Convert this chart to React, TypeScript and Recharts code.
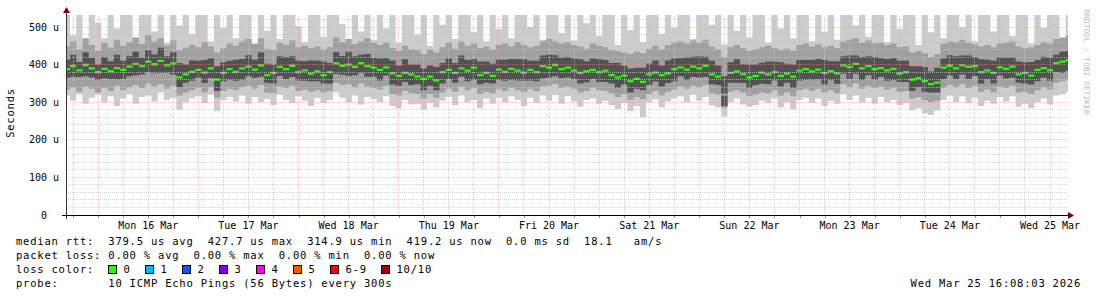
import { ComposedChart, Area, XAxis, YAxis, ReferenceLine } from 'recharts'

if (typeof document !== 'undefined') document.body.style.margin = '0'

// one sample every 1.5 h, starting Sun 15 Mar 16:30 (index 0) -> Wed 25 Mar 16:30 (index 160)
const pingMax = [
  540, 478, 540, 452, 540, 512, 470, 540, 496, 540,
  540, 466, 540, 540, 488, 540, 458, 540, 504, 540,
  482, 540, 540, 462, 540, 498, 540, 470, 540, 540,
  456, 540, 490, 540, 468, 540, 540, 502, 460, 540,
  540, 474, 540, 540, 508, 452, 540, 488, 540, 466,
  540, 496, 540, 458, 540, 540, 480, 540, 450, 540,
  506, 540, 468, 540, 540, 486, 540, 462, 540, 494,
  540, 470, 540, 540, 500, 540, 456, 540, 540, 484,
  540, 464, 540, 510, 540, 476, 540, 540, 452, 540,
  492, 540, 460, 540, 540, 482, 540, 498, 540, 540,
  468, 540, 540, 506, 540, 454, 540, 490, 540, 472,
  540, 540, 458, 540, 496, 540, 470, 540, 540, 462,
  540, 488, 540, 466, 540, 540, 504, 540, 474, 540,
  540, 460, 540, 494, 540, 540, 452, 540, 486, 540,
  470, 540, 540, 500, 540, 462, 540, 540, 488, 540,
  540, 476, 540, 540, 456, 540, 498, 540, 540, 470,
  540,
]

const pingHi2 = [
  448, 462, 440, 470, 452, 436, 458, 445, 466, 450,
  460, 472, 455, 478, 462, 470, 450, 465, 438, 445,
  452, 446, 460, 448, 432, 444, 456, 450, 462, 468,
  455, 470, 442, 438, 458, 452, 464, 446, 450, 444,
  448, 440, 446, 472, 460, 468, 455, 462, 470, 458,
  452, 458, 444, 436, 450, 440, 438, 428, 440, 432,
  446, 458, 442, 462, 450, 456, 444, 448, 440, 452,
  456, 448, 460, 452, 446, 450, 464, 468, 462, 456,
  460, 452, 448, 442, 456, 450, 446, 438, 436, 432,
  428, 434, 430, 442, 450, 440, 452, 458, 462, 456,
  464, 458, 466, 448, 440, 420, 446, 452, 444, 436,
  440, 446, 450, 444, 438, 442, 436, 452, 456, 448,
  454, 446, 450, 444, 462, 466, 470, 458, 464, 456,
  458, 452, 456, 446, 448, 432, 436, 430, 420, 428,
  456, 462, 460, 466, 458, 454, 448, 452, 446, 456,
  458, 462, 448, 444, 446, 452, 460, 456, 468, 472,
  476,
]

const pingHi1 = [
  413, 426, 407, 433, 418, 400, 420, 409, 426, 410,
  423, 434, 418, 438, 427, 445, 422, 433, 404, 400,
  411, 410, 412, 416, 396, 406, 410, 413, 415, 425,
  413, 432, 402, 400, 422, 420, 422, 410, 409, 411,
  410, 408, 404, 433, 423, 434, 422, 426, 428, 418,
  416, 417, 411, 398, 414, 400, 400, 390, 398, 394,
  404, 416, 404, 424, 412, 414, 408, 408, 402, 413,
  413, 415, 414, 414, 410, 410, 424, 426, 425, 418,
  420, 416, 414, 409, 416, 414, 412, 404, 404, 397,
  390, 392, 392, 402, 411, 398, 411, 416, 417, 419,
  421, 422, 421, 410, 398, 370, 406, 414, 401, 400,
  400, 405, 408, 408, 406, 402, 400, 412, 412, 412,
  415, 412, 409, 409, 422, 424, 424, 420, 422, 420,
  417, 415, 417, 410, 410, 396, 396, 394, 382, 392,
  416, 425, 422, 424, 424, 420, 414, 413, 410, 419,
  419, 419, 408, 406, 407, 412, 421, 419, 426, 434,
  436,
]

const medianRtt = [
  388, 396, 385, 399, 390, 380, 389, 383, 391, 386,
  395, 402, 396, 408, 401, 410, 398, 403, 366, 374,
  381, 386, 379, 390, 360, 378, 388, 381, 390, 395,
  387, 398, 372, 378, 394, 388, 397, 380, 385, 376,
  382, 372, 380, 403, 397, 400, 394, 404, 396, 392,
  386, 393, 377, 370, 378, 374, 368, 362, 368, 358,
  380, 386, 378, 390, 384, 392, 372, 378, 370, 387,
  381, 389, 384, 379, 386, 380, 396, 392, 399, 388,
  392, 384, 378, 383, 386, 380, 384, 372, 366, 371,
  356, 362, 354, 374, 379, 372, 377, 388, 393, 387,
  395, 390, 397, 374, 368, 320, 378, 382, 375, 366,
  370, 379, 374, 380, 370, 376, 368, 384, 388, 382,
  387, 378, 383, 377, 398, 394, 402, 390, 396, 388,
  391, 385, 389, 376, 380, 360, 364, 356, 348, 352,
  392, 397, 390, 398, 394, 396, 380, 385, 378, 393,
  389, 395, 374, 378, 371, 386, 391, 385, 404, 408,
  412,
]

const pingLo1 = [
  366, 368, 367, 369, 366, 360, 363, 362, 361, 362,
  369, 372, 374, 380, 377, 378, 378, 373, 340, 352,
  357, 366, 351, 364, 330, 356, 360, 357, 360, 369,
  365, 368, 352, 350, 370, 362, 367, 358, 357, 356,
  356, 350, 350, 375, 373, 370, 372, 378, 368, 368,
  358, 371, 347, 344, 354, 346, 348, 332, 344, 332,
  350, 362, 352, 368, 356, 360, 348, 352, 350, 359,
  357, 359, 358, 357, 358, 356, 364, 366, 369, 364,
  366, 362, 350, 353, 362, 354, 354, 350, 338, 347,
  326, 336, 332, 346, 355, 342, 351, 356, 369, 359,
  367, 366, 367, 348, 346, 290, 352, 352, 351, 338,
  346, 349, 348, 358, 342, 352, 338, 358, 360, 360,
  361, 348, 359, 349, 376, 362, 376, 360, 372, 360,
  367, 357, 359, 354, 354, 330, 340, 328, 326, 326,
  362, 371, 362, 374, 362, 370, 350, 361, 350, 371,
  363, 365, 352, 350, 347, 356, 365, 357, 380, 378,
  384,
]

const pingLo2 = [
  334, 340, 328, 342, 336, 326, 338, 330, 344, 332,
  340, 346, 338, 350, 342, 348, 336, 344, 318, 326,
  332, 338, 326, 340, 312, 330, 336, 332, 340, 344,
  336, 346, 326, 324, 342, 338, 344, 330, 334, 328,
  332, 326, 330, 352, 346, 348, 340, 350, 342, 338,
  334, 344, 322, 318, 330, 324, 322, 310, 322, 312,
  326, 336, 328, 342, 332, 338, 322, 328, 324, 336,
  330, 338, 332, 328, 336, 330, 342, 344, 348, 338,
  342, 336, 326, 330, 338, 332, 330, 324, 314, 322,
  306, 314, 308, 322, 330, 318, 328, 334, 342, 336,
  344, 340, 346, 324, 320, 285, 328, 332, 326, 316,
  320, 326, 324, 332, 318, 326, 316, 332, 336, 330,
  336, 326, 332, 324, 348, 340, 350, 336, 344, 338,
  342, 334, 338, 328, 330, 310, 314, 306, 300, 304,
  338, 346, 340, 348, 338, 344, 328, 334, 326, 342,
  338, 344, 326, 328, 322, 332, 340, 334, 352, 356,
  360,
]

const pingMin = [
  318, 304, 322, 296, 312, 320, 300, 316, 290, 310,
  322, 296, 314, 318, 302, 326, 306, 312, 280, 300,
  310, 316, 298, 320, 276, 306, 314, 302, 318, 296,
  314, 300, 308, 292, 320, 306, 298, 316, 304, 290,
  312, 298, 306, 326, 312, 300, 318, 294, 314, 308,
  300, 316, 290, 284, 306, 294, 296, 280, 298, 286,
  304, 314, 292, 318, 300, 306, 284, 310, 296, 312,
  300, 316, 306, 290, 312, 298, 318, 304, 320, 296,
  316, 302, 288, 306, 310, 296, 304, 292, 282, 298,
  276, 290, 260, 300, 308, 286, 302, 310, 316, 300,
  320, 304, 314, 292, 286, 262, 300, 310, 294, 288,
  292, 304, 298, 310, 286, 300, 282, 306, 312, 298,
  310, 290, 304, 296, 322, 306, 318, 300, 312, 296,
  314, 300, 306, 292, 298, 278, 284, 270, 266, 278,
  306, 318, 300, 316, 298, 312, 290, 304, 296, 314,
  302, 316, 288, 296, 284, 300, 310, 294, 318, 322,
  326,
]

const dayLabels = [
  'Mon 16 Mar', 'Tue 17 Mar', 'Wed 18 Mar', 'Thu 19 Mar', 'Fri 20 Mar',
  'Sat 21 Mar', 'Sun 22 Mar', 'Mon 23 Mar', 'Tue 24 Mar', 'Wed 25 Mar',
]
const yTicks = [0, 100, 200, 300, 400, 500]

const lossColors = [
  { label: '0', color: '#26ff00', x: 108.5 },
  { label: '1', color: '#00b8ff', x: 145.5 },
  { label: '2', color: '#0059ff', x: 182.5 },
  { label: '3', color: '#7e00ff', x: 219.5 },
  { label: '4', color: '#ff00ff', x: 256.5 },
  { label: '5', color: '#ff5500', x: 293.5 },
  { label: '6-9', color: '#ff0000', x: 330.5 },
  { label: '10/10', color: '#a10000', x: 381.5 },
]

// sample index of noon / midnight / every 6h (index = (hour + 7.5) / 1.5)
const midnightIdx = dayLabels.map((_, k) => 5 + 16 * k)
const allSixHourIdx = Array.from({ length: 40 }, (_, m) => 1 + 4 * m)
const sixHourIdx = allSixHourIdx.filter((i) => (i - 5) % 16 !== 0)
const minorY = Array.from({ length: 26 }, (_, k) => 20 * (k + 1)).filter((v) => v % 100 !== 0)

const MED_HALF = 3

const rows = medianRtt.map((m, i) => ({
  i,
  smoke0: [pingMin[i], pingMax[i]],
  smoke1: [pingLo2[i], pingHi2[i]],
  smoke2: [pingLo1[i], pingHi1[i]],
  med: [m - MED_HALF, m + MED_HALF],
}))

const MONO = "'DejaVu Sans Mono', monospace"
const legendStyle = {
  fontFamily: MONO,
  fontSize: 10.5,
  letterSpacing: 0.78,
  whiteSpace: 'pre' as const,
}

const YTick = (props: any) => {
  const v = props.payload.value
  return (
    <text x={v === 0 ? 47 : 59} y={props.y + 3.5} textAnchor="end" fontFamily={MONO} fontSize={10} fill="#000">
      {v === 0 ? '0' : `${v} u`}
    </text>
  )
}

// tick mark every 6 h, day name at noon
const XTick = (props: any) => {
  const v = props.payload.value
  const k = (v - 13) / 16
  const x = Math.round(props.x) + 0.5
  const isMidnight = (v - 5) % 16 === 0
  return (
    <g>
      <line x1={x} y1={216} x2={x} y2={218} stroke={isMidnight ? '#d08080' : '#999'} />
      {Number.isInteger(k) && dayLabels[k] ? (
        <text x={props.x} y={229} textAnchor="middle" fontFamily={MONO} fontSize={10} fill="#000">
          {dayLabels[k]}
        </text>
      ) : null}
    </g>
  )
}

const minorGrid = { stroke: '#c4c4c4', strokeOpacity: 0.75, strokeDasharray: '1 1', shapeRendering: 'crispEdges' }
const majorGrid = { stroke: '#f08c8c', strokeOpacity: 0.5, strokeDasharray: '1 1', shapeRendering: 'crispEdges' }

export default function App() {
  return (
    <div style={{ position: 'relative', width: 1097, height: 297, background: '#fff' }}>
      <ComposedChart
        width={1097}
        height={297}
        data={rows}
        margin={{ top: 15, right: 29, bottom: 62, left: 6 }}
      >
        <XAxis
          type="number"
          dataKey="i"
          domain={[-0.133, 159.87]}
          allowDataOverflow
          ticks={allSixHourIdx}
          interval={0}
          tick={<XTick />}
          tickLine={false}
          axisLine={false}
          height={20}
        />
        <YAxis
          type="number"
          domain={[0, 532]}
          allowDataOverflow
          ticks={yTicks}
          interval={0}
          tick={<YTick />}
          tickLine={false}
          axisLine={false}
          width={60}
        />
        <Area dataKey="smoke0" type="step" fill="#cccccc" fillOpacity={1} stroke="none" isAnimationActive={false} />
        <Area dataKey="smoke1" type="step" fill="#a0a0a0" fillOpacity={1} stroke="none" isAnimationActive={false} />
        <Area dataKey="smoke2" type="step" fill="#525252" fillOpacity={1} stroke="none" isAnimationActive={false} />
        <Area dataKey="med" type="step" fill="#26ff00" fillOpacity={1} stroke="none" isAnimationActive={false} />
        {minorY.map((v) => (
          <ReferenceLine key={`hy${v}`} y={v} {...minorGrid} />
        ))}
        {sixHourIdx.map((i) => (
          <ReferenceLine key={`vx${i}`} x={i} {...minorGrid} />
        ))}
        {yTicks.slice(1).map((v) => (
          <ReferenceLine key={`my${v}`} y={v} {...majorGrid} />
        ))}
        {midnightIdx.map((i) => (
          <ReferenceLine key={`mx${i}`} x={i} {...majorGrid} />
        ))}
      </ComposedChart>

      <svg width={1097} height={297} style={{ position: 'absolute', left: 0, top: 0, pointerEvents: 'none' }}>
        {/* axes with arrow heads */}
        <line x1={62} y1={215.5} x2={1069} y2={215.5} stroke="#000" strokeWidth={1} />
        <polygon points="1068,212 1074,215.5 1068,219" fill="#7f0000" />
        <line x1={66.5} y1={219} x2={66.5} y2={12} stroke="#333" strokeWidth={1} />
        <polygon points="63,13 66.5,7 70,13" fill="#7f0000" />

        <text transform="translate(14,113) rotate(-90)" textAnchor="middle" style={legendStyle} fill="#000">
          Seconds
        </text>
        <text
          transform="translate(1084,62) rotate(90)"
          textAnchor="middle"
          fontFamily={MONO}
          fontSize={7.8}
          letterSpacing={0.1}
          fill="#b8b8b8"
        >
          RRDTOOL / TOBI OETIKER
        </text>

        <text x={16} y={245} style={legendStyle} fill="#000">
          {'median rtt:  379.5 us avg  427.7 us max  314.9 us min  419.2 us now  0.0 ms sd  18.1   am/s'}
        </text>
        <text x={16} y={259} style={legendStyle} fill="#000">
          {'packet loss: 0.00 % avg  0.00 % max  0.00 % min  0.00 % now'}
        </text>
        <text x={16} y={273} style={legendStyle} fill="#000">
          {'loss color:'}
        </text>
        {lossColors.map((c) => (
          <g key={c.label}>
            <rect x={c.x} y={265.5} width={8} height={8} fill={c.color} stroke="#000" strokeWidth={1} />
            <text x={c.x + 15} y={273} style={legendStyle} fill="#000">
              {c.label}
            </text>
          </g>
        ))}
        <text x={16} y={287} style={legendStyle} fill="#000">
          {'probe:       10 ICMP Echo Pings (56 Bytes) every 300s'}
        </text>
        <text x={1081} y={287} textAnchor="end" style={legendStyle} fill="#000">
          {'Wed Mar 25 16:08:03 2026'}
        </text>
      </svg>
    </div>
  )
}
